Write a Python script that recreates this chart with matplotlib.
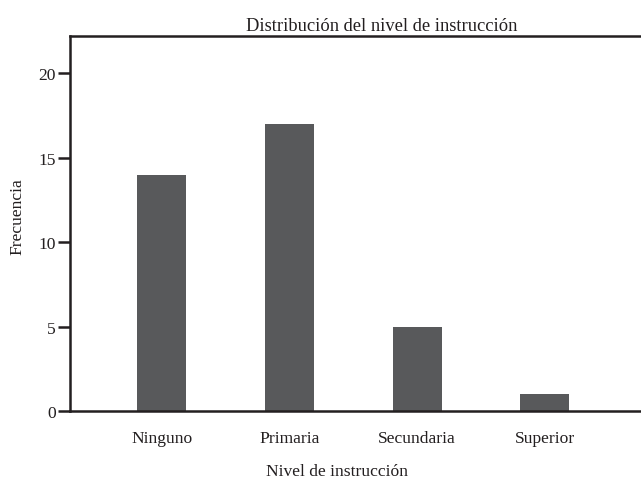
import matplotlib
matplotlib.use("Agg")
import matplotlib.pyplot as plt
import numpy as np

categories = ["Ninguno", "Primaria", "Secundaria", "Superior"]
values = [14, 17, 5, 1]
yticks = [0, 5, 10, 15, 20]

plt.rcParams['font.family'] = ['Liberation Serif', 'DejaVu Serif']

W, H = 641, 485
fig = plt.figure(figsize=(W / 100, H / 100), dpi=100)
left, right, bottom, top = 70, 694, 412, 37
ax = fig.add_axes([left / W, (H - bottom) / H, (right - left) / W, (bottom - top) / H])

x = np.arange(len(categories))
ax.bar(x, values, width=0.384, color='#58595b')
ax.set_xlim(-0.72, 4.17)
ax.set_ylim(0, 22.2)

ax.set_xticks(x)
ax.set_xticklabels(categories, fontsize=12.6, color='#231f20')
ax.set_yticks(yticks)
ax.set_yticklabels([str(v) for v in yticks], fontsize=12.6, color='#231f20')
ax.tick_params(axis='x', length=0, pad=14)
ax.tick_params(axis='y', direction='out', length=9, width=1.8, color='#231f20', pad=1)

for s in ['left', 'top', 'bottom']:
    ax.spines[s].set_color('#231f20')
    ax.spines[s].set_linewidth(1.8)
ax.spines['right'].set_visible(False)

ax.set_title("Distribución del nivel de instrucción", fontsize=13.3, color='#231f20', pad=4)
ax.set_xlabel("Nivel de instrucción", fontsize=12.6, color='#231f20')
ax.xaxis.set_label_coords((337 - left) / (right - left), -(464 - bottom) / (bottom - top))
ax.set_ylabel("Frecuencia", fontsize=12.6, color='#231f20')
ax.yaxis.set_label_coords(-(left - 25) / (right - left), (bottom - 217) / (bottom - top))

fig.savefig("out.png", dpi=100)
